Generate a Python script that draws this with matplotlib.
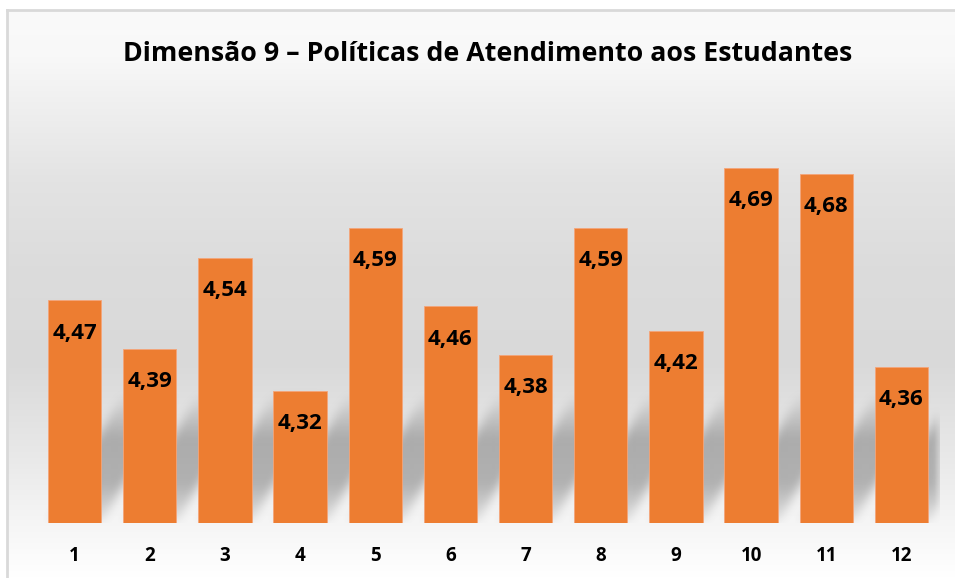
import numpy as np
import matplotlib
matplotlib.use("Agg")
import matplotlib.pyplot as plt
from matplotlib.colors import LinearSegmentedColormap

# Chart data
categories = ["1", "2", "3", "4", "5", "6", "7", "8", "9", "10", "11", "12"]
scores = [4.47, 4.39, 4.54, 4.32, 4.59, 4.46, 4.38, 4.59, 4.42, 4.69, 4.68, 4.36]
title = "Dimensão 9 – Políticas de Atendimento aos Estudantes"

BAR_COLOR = "#ED7D31"
FONT = ["Open Sans", "DejaVu Sans"]
YMIN, YMAX = 4.1, 4.8
BAR_W = 0.71

W, H = 955, 578
fig = plt.figure(figsize=(W / 100, H / 100), dpi=100)

# gradient background of the chart area (white -> gray -> white)
bg = fig.add_axes([8 / W, 0, 1 - 8 / W, 1 - 11 / H], zorder=0)
stops = [(0.0, "#fafafa"), (0.08, "#f8f8f8"), (0.16, "#f0f0f0"),
         (0.30, "#e3e3e3"), (0.45, "#dcdcdc"), (0.62, "#d9d9d9"),
         (0.80, "#eaeaea"), (0.90, "#f5f5f5"), (1.0, "#ffffff")]
cmap = LinearSegmentedColormap.from_list("bg", [(1 - p, c) for p, c in stops][::-1])
grad = np.linspace(0, 1, 256).reshape(-1, 1)
bg.imshow(grad, aspect="auto", cmap=cmap, extent=[0, 1, 0, 1], origin="lower")
bg.set_axis_off()

# chart border (top and left visible)
fig.add_artist(plt.Line2D([7 / W, 7 / W], [0, 1 - 10 / H], color="#d9d9d9", lw=2))
fig.add_artist(plt.Line2D([7 / W, 1], [1 - 10 / H, 1 - 10 / H], color="#d9d9d9", lw=2))

ax = fig.add_axes([37 / W, 55 / H, 902 / W, 421 / H], zorder=1)
ax.patch.set_alpha(0)
x = np.arange(len(categories))
xlim = (-0.5, len(categories) - 0.5)


def box_blur(a, r, axis):
    k = np.ones(2 * r + 1) / (2 * r + 1)
    return np.apply_along_axis(lambda m: np.convolve(m, k, mode="same"), axis, a)


# soft perspective shadow behind each bar: sheared so its top ends up
# hidden behind the next bar, light at the foot, fading at the top
nx, ny = 902, 421
px_x = nx / (xlim[1] - xlim[0])
px_y = ny / (YMAX - YMIN)
GX, GY = np.meshgrid(np.linspace(xlim[0], xlim[1], nx), np.linspace(YMIN, YMAX, ny))
t_px = (GY - YMIN) * px_y
alpha = np.zeros_like(GX)
for xi, v in zip(x, scores):
    hs = min(130, (v - YMIN) * px_y)
    sx = GX - t_px / hs
    inside = (t_px <= hs) & (sx >= xi - BAR_W / 2) & (sx <= xi + BAR_W / 2)
    ramp = np.clip(0.25 + 0.75 * t_px / 40, 0, 1) * np.clip((hs - t_px) / 45, 0, 1)
    alpha = np.maximum(alpha, np.where(inside, 0.45 * ramp, 0))
for _ in range(2):
    alpha = box_blur(alpha, 5, 0)
    alpha = box_blur(alpha, 5, 1)
rgba = np.zeros((ny, nx, 4))
rgba[..., :3] = 0.4
rgba[..., 3] = alpha
ax.imshow(rgba, origin="lower", aspect="auto",
          extent=[xlim[0], xlim[1], YMIN, YMAX], zorder=1)

ax.bar(x, [v - YMIN for v in scores], bottom=YMIN, width=BAR_W,
       color=BAR_COLOR, edgecolor="#f4a57a", linewidth=0.6, zorder=2)

for xi, v in zip(x, scores):
    ax.annotate(f"{v:.2f}".replace(".", ","), (xi, v), xytext=(0, -27.4),
                textcoords="offset points", ha="center", va="baseline",
                fontsize=16, fontweight="bold", family=FONT, zorder=3)

ax.set_xlim(*xlim)
ax.set_ylim(YMIN, YMAX)
ax.set_xticks(x)
ax.set_xticklabels(categories, fontsize=13.5, fontweight="bold", family=FONT)
ax.tick_params(axis="x", length=0, pad=16.5)
ax.set_yticks([])
for s in ax.spines.values():
    s.set_visible(False)

fig.text(488 / W, 1 - 61 / H, title, ha="center", va="baseline",
         fontsize=19.3, fontweight="bold", family=FONT)

fig.savefig("out.png", dpi=100)
